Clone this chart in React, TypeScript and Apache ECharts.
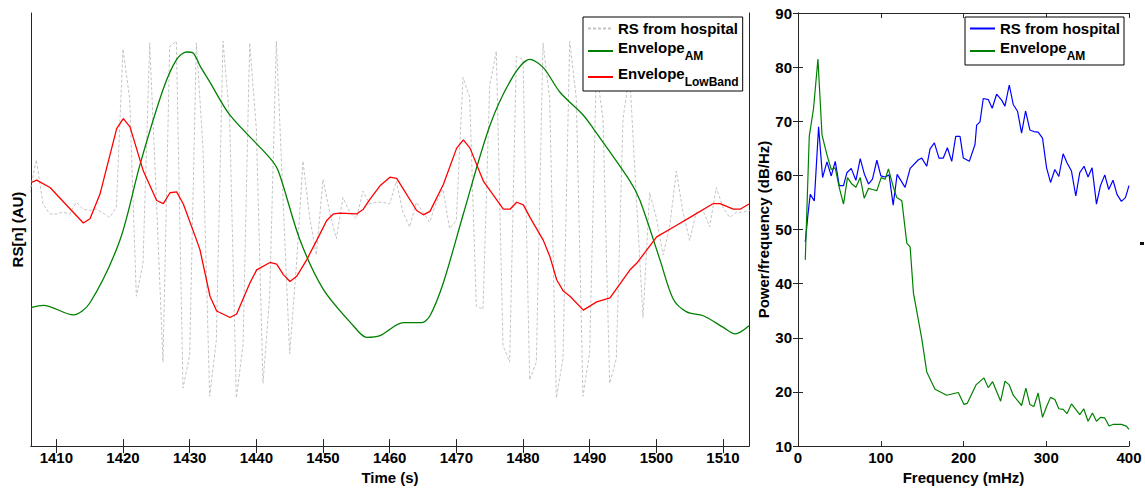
import React, { useEffect, useRef } from 'react';
import * as echarts from 'echarts';

const FONT = "'Liberation Sans', Arial, Helvetica, sans-serif";
const AXIS_COLOR = '#262626';

// ---------- Left panel: time domain ----------
const timeTicks = [1410, 1420, 1430, 1440, 1450, 1460, 1470, 1480, 1490, 1500, 1510];

// RS from hospital, sampled once per second starting at rsStart
const rsStart = 1406;
const rsValues = [
  58.5, 66.1, 55.9, 53.6, 53.6, 54.0, 53.6, 56.3, 54.7, 54.4,
  54.7, 53.8, 52.8, 55.1, 91.7, 80.2, 34.6, 42.2, 93.1, 57.4,
  19.4, 92.3, 93.5, 13.4, 21.0, 93.1, 68.8, 11.5, 24.4, 93.5,
  75.6, 11.1, 23.2, 93.1, 73.3, 14.5, 34.6, 93.5, 57.4, 21.3,
  41.5, 65.8, 52.8, 44.1, 61.6, 54.0, 47.9, 57.4, 54.0, 52.5,
  58.9, 55.9, 56.3, 56.3, 55.9, 61.2, 54.0, 50.6, 56.3, 54.0,
  51.7, 56.3, 59.3, 50.2, 52.1, 85.1, 80.6, 32.3, 31.6, 83.2,
  91.2, 23.2, 19.4, 90.0, 89.3, 15.3, 19.4, 93.1, 80.2, 11.1,
  20.2, 93.5, 80.2, 11.5, 21.7, 87.0, 75.6, 14.5, 20.2, 75.6,
  85.9, 57.4, 29.7, 58.5, 52.8, 44.1, 50.6, 63.5, 54.0, 47.5,
  54.0, 54.4, 50.6, 59.7, 55.1, 52.8, 54.0, 54.0, 54.4,
];

// Envelope AM (time, value)
const envAM: [number, number][] = [
  [1406.2, 32.0], [1408.05, 32.5], [1412.55, 30.3], [1415.05, 33.1], [1419.55, 47.6],
  [1422.55, 65.0], [1426.05, 82.5], [1428.05, 89.3], [1429.55, 91.0], [1430.55, 90.7],
  [1431.55, 87.8], [1433.05, 84.0], [1436.05, 76.4], [1442.05, 66.5], [1443.3, 63.5],
  [1446.55, 47.6], [1450.05, 36.2], [1454.55, 27.8], [1456.55, 25.1], [1458.55, 25.5],
  [1462.05, 28.5], [1464.8, 28.5], [1466.05, 30.1], [1468.05, 37.7], [1471.05, 53.6],
  [1475.05, 74.1], [1478.55, 85.5], [1481.05, 89.3], [1483.05, 87.4], [1485.55, 81.7],
  [1489.05, 76.4], [1490.55, 73.3], [1496.05, 61.2], [1497.55, 56.7], [1500.55, 43.0],
  [1502.55, 33.9], [1504.55, 31.0], [1507.05, 30.1], [1510.05, 27.4], [1511.8, 25.9],
  [1513.9, 27.8],
];

// Envelope LowBand (time, value)
const envLowBand: [number, number][] = [
  [1406.2, 60.8], [1407.05, 61.4], [1409.05, 59.7], [1414.05, 51.5], [1415.05, 52.5],
  [1416.55, 58.2], [1419.05, 73.3], [1420.05, 75.6], [1421.05, 73.7], [1423.05, 63.5],
  [1425.05, 56.7], [1426.05, 56.0], [1427.05, 58.5], [1428.05, 58.7], [1429.05, 55.9],
  [1431.05, 47.5], [1431.55, 45.3], [1433.05, 34.6], [1434.05, 31.2], [1436.05, 29.7],
  [1437.05, 30.5], [1439.05, 37.7], [1440.05, 40.7], [1442.05, 42.4], [1443.05, 42.0],
  [1444.05, 39.6], [1445.05, 38.0], [1446.05, 39.2], [1447.55, 43.0], [1449.55, 49.0],
  [1450.55, 52.1], [1451.55, 53.6], [1452.55, 53.8], [1455.05, 53.6], [1456.05, 54.7],
  [1457.05, 57.0], [1458.55, 60.1], [1460.05, 62.1], [1461.05, 61.8], [1464.05, 54.4],
  [1465.05, 53.4], [1466.05, 54.2], [1468.05, 60.4], [1470.05, 68.8], [1471.05, 70.7],
  [1472.05, 68.8], [1474.05, 61.2], [1477.05, 54.7], [1478.05, 54.7], [1479.05, 56.3],
  [1480.05, 55.7], [1481.05, 52.8], [1483.05, 47.5], [1484.05, 43.7], [1485.05, 38.4],
  [1486.05, 35.8], [1487.05, 34.6], [1489.05, 31.4], [1491.05, 33.3], [1493.05, 34.2],
  [1496.05, 40.7], [1497.05, 42.2], [1500.05, 48.3], [1503.05, 51.0], [1505.05, 52.8],
  [1508.55, 56.0], [1509.55, 56.0], [1511.55, 54.7], [1512.55, 54.7], [1513.9, 55.9],
];

// ---------- Right panel: spectrum ----------
const psdRS: [number, number][] = [
  [8.8, 47.7], [12.1, 52.9], [14.8, 56.5], [19.7, 55.3], [24.9, 69.0], [29.7, 59.6],
  [35.0, 62.5], [40.2, 59.9], [45.0, 62.6], [49.8, 58.1], [55.0, 58.1], [59.1, 60.5],
  [64.3, 61.3], [70.0, 59.1], [75.2, 63.1], [80.3, 60.2], [85.2, 58.4], [90.0, 59.3],
  [95.3, 62.8], [100.1, 59.9], [105.3, 59.7], [110.1, 60.1], [115.0, 54.5], [119.8, 60.2],
  [129.4, 57.8], [135.5, 61.3], [145.5, 62.9], [149.6, 63.2], [155.6, 61.7], [159.6, 64.9],
  [164.8, 66.0], [170.4, 63.2], [175.6, 63.2], [180.5, 65.1], [185.8, 62.6], [190.6, 67.2],
  [195.8, 67.2], [199.8, 63.2], [207.0, 62.6], [213.9, 65.7], [215.9, 69.3], [219.9, 69.9],
  [223.9, 74.2], [229.9, 74.0], [234.7, 72.4], [240.0, 75.0], [246.1, 73.9], [250.1, 72.8],
  [255.3, 76.7], [260.1, 73.1], [265.4, 71.8], [270.2, 67.8], [275.0, 71.9], [280.2, 68.4],
  [285.0, 68.1], [290.2, 68.0], [295.5, 66.9], [300.4, 61.4], [305.2, 58.7], [310.4, 61.1],
  [315.2, 59.8], [320.4, 64.0], [325.2, 62.3], [330.5, 60.8], [335.7, 56.2], [340.5, 60.5],
  [345.7, 61.7], [350.5, 59.7], [355.4, 61.4], [360.7, 54.7], [365.5, 58.1], [370.7, 60.1],
  [375.5, 57.4], [380.7, 59.1], [385.5, 56.5], [390.8, 55.2], [395.7, 55.9], [400.0, 58.1],
];

const psdAM: [number, number][] = [
  [8.8, 44.4], [13.6, 67.2], [18.8, 72.4], [24.1, 81.5], [29.0, 67.5], [35.0, 63.8],
  [40.2, 61.1], [45.0, 61.4], [49.8, 57.8], [55.0, 54.7], [59.8, 59.6], [65.1, 58.4],
  [70.0, 57.8], [75.2, 59.6], [80.0, 55.8], [85.2, 57.6], [90.0, 57.4], [95.3, 57.2],
  [100.5, 59.6], [105.3, 59.3], [109.3, 61.2], [115.3, 57.8], [119.4, 55.9], [125.5, 55.3],
  [131.5, 47.5], [135.5, 46.8], [139.5, 38.3], [149.6, 29.8], [155.6, 23.7], [165.6, 20.5],
  [179.7, 19.4], [193.7, 19.9], [200.6, 17.7], [204.6, 17.9], [215.1, 21.3], [224.7, 22.6],
  [229.9, 20.8], [235.2, 21.9], [244.9, 18.3], [250.1, 22.0], [255.3, 21.3], [260.1, 19.4],
  [270.2, 17.5], [275.4, 20.7], [280.2, 17.7], [285.0, 17.3], [290.2, 19.8], [295.5, 15.3],
  [300.4, 17.3], [305.2, 19.0], [310.4, 18.6], [315.2, 16.9], [320.4, 16.8], [325.2, 16.0],
  [330.5, 17.8], [335.7, 16.8], [340.5, 15.8], [345.3, 16.9], [350.5, 14.6], [355.8, 16.1],
  [360.7, 14.6], [365.5, 15.3], [370.7, 15.2], [375.9, 13.7], [380.7, 14.0], [390.8, 14.0],
  [396.8, 13.7], [400.0, 13.1],
];

const legendLabels: Record<string, string> = {
  'RS from hospital': '{m1|RS from hospital}',
  'Envelope AM': '{m|Envelope}{s|AM}',
  'Envelope LowBand': '{m|Envelope}{s|LowBand}',
  'RS from hospital (PSD)': '{m1|RS from hospital}',
  'Envelope AM (PSD)': '{m|Envelope}{s|AM}',
};

const legendText = {
  fontFamily: FONT,
  fontWeight: 'bold' as const,
  fontSize: 15,
  color: '#000',
  rich: {
    m1: { fontFamily: FONT, fontWeight: 'bold', fontSize: 15, color: '#000', lineHeight: 16 },
    m: { fontFamily: FONT, fontWeight: 'bold', fontSize: 15, color: '#000', lineHeight: 22, verticalAlign: 'top' },
    s: { fontFamily: FONT, fontWeight: 'bold', fontSize: 12, color: '#000', lineHeight: 22, verticalAlign: 'bottom' },
  },
};

const labelFont = { fontFamily: FONT, fontWeight: 'bold' as const, fontSize: 15, color: '#000' };
const plainNumber = (v: number) => String(v);

function buildOption(): echarts.EChartsOption {
  const rsData = rsValues.map((v, i) => [rsStart + i, v]);
  const legendCommon = {
    orient: 'vertical' as const,
    itemWidth: 25,
    itemHeight: 12,
    itemGap: 4,
    padding: [4, 4, 3, 4],
    borderColor: '#000',
    borderWidth: 1,
    backgroundColor: '#fff',
    textStyle: legendText,
    itemStyle: { opacity: 0 },
    formatter: (name: string) => legendLabels[name] || name,
    selectedMode: false as const,
  };
  const axisLine = { show: true, lineStyle: { color: AXIS_COLOR, width: 1 } };
  return {
    animation: false,
    backgroundColor: '#fff',
    textStyle: { fontFamily: FONT },
    grid: [
      { left: 31, top: 13, width: 718, height: 439, show: false },
      { left: 798, top: 13, width: 331, height: 439, show: false },
    ],
    legend: [
      { ...legendCommon, left: 583, top: 17, data: ['RS from hospital', 'Envelope AM', 'Envelope LowBand'] },
      { ...legendCommon, left: 965, top: 17, data: ['RS from hospital (PSD)', 'Envelope AM (PSD)'] },
    ],
    xAxis: [
      {
        gridIndex: 0, type: 'value', min: 1406.2, max: 1513.9, position: 'bottom',
        axisLine, splitLine: { show: false },
        axisTick: { show: true, inside: true, length: 7, customValues: timeTicks, lineStyle: { color: AXIS_COLOR } },
        axisLabel: { show: true, margin: 4, customValues: timeTicks, formatter: plainNumber, ...labelFont },
        name: 'Time (s)', nameLocation: 'middle', nameGap: 19, nameTextStyle: labelFont,
      },
      {
        gridIndex: 0, type: 'value', min: 1406.2, max: 1513.9, position: 'top',
        axisLine, splitLine: { show: false },
        axisTick: { show: true, inside: true, length: 7, customValues: timeTicks, lineStyle: { color: AXIS_COLOR } },
        axisLabel: { show: false },
      },
      {
        gridIndex: 1, type: 'value', min: 0, max: 400, interval: 100, position: 'bottom',
        axisLine, splitLine: { show: false },
        axisTick: { show: true, inside: true, length: 5, lineStyle: { color: AXIS_COLOR } },
        axisLabel: { show: true, margin: 4, showMinLabel: true, showMaxLabel: true, formatter: plainNumber, ...labelFont },
        name: 'Frequency (mHz)', nameLocation: 'middle', nameGap: 19, nameTextStyle: labelFont,
      },
      {
        gridIndex: 1, type: 'value', min: 0, max: 400, interval: 100, position: 'top',
        axisLine, splitLine: { show: false },
        axisTick: { show: true, inside: true, length: 5, lineStyle: { color: AXIS_COLOR } },
        axisLabel: { show: false },
      },
    ],
    yAxis: [
      {
        gridIndex: 0, type: 'value', min: 0, max: 100, position: 'left',
        axisLine, splitLine: { show: false }, axisTick: { show: false }, axisLabel: { show: false },
        name: 'RS[n] (AU)', nameLocation: 'middle', nameGap: 6, nameTextStyle: labelFont,
      },
      {
        gridIndex: 0, type: 'value', min: 0, max: 100, position: 'right',
        axisLine, splitLine: { show: false }, axisTick: { show: false }, axisLabel: { show: false },
      },
      {
        gridIndex: 1, type: 'value', min: 10, max: 90, interval: 10, position: 'left',
        axisLine, splitLine: { show: false },
        axisTick: { show: true, inside: true, length: 5, lineStyle: { color: AXIS_COLOR } },
        axisLabel: { show: true, margin: 6, showMinLabel: true, showMaxLabel: true, formatter: plainNumber, ...labelFont },
        name: 'Power/frequency (dB/Hz)', nameLocation: 'middle', nameGap: 24, nameTextStyle: labelFont,
      },
      {
        gridIndex: 1, type: 'value', min: 10, max: 90, interval: 10, position: 'right',
        axisLine, splitLine: { show: false },
        axisTick: { show: true, inside: true, length: 5, lineStyle: { color: AXIS_COLOR } },
        axisLabel: { show: false },
      },
    ],
    series: [
      {
        name: 'RS from hospital', type: 'line', xAxisIndex: 0, yAxisIndex: 0, data: rsData,
        symbol: 'none', showSymbol: false, z: 2,
        lineStyle: { color: '#c4c4c4', width: 1, type: [3, 2] }, itemStyle: { color: '#c4c4c4' },
      },
      {
        name: 'Envelope AM', type: 'line', xAxisIndex: 0, yAxisIndex: 0, data: envAM,
        symbol: 'none', showSymbol: false, smooth: 0.3, z: 3,
        lineStyle: { color: '#008000', width: 1.3 }, itemStyle: { color: '#008000' },
      },
      {
        name: 'Envelope LowBand', type: 'line', xAxisIndex: 0, yAxisIndex: 0, data: envLowBand,
        symbol: 'none', showSymbol: false, z: 4,
        lineStyle: { color: '#ff0000', width: 1.3 }, itemStyle: { color: '#ff0000' },
      },
      {
        name: 'RS from hospital (PSD)', type: 'line', xAxisIndex: 2, yAxisIndex: 2, data: psdRS,
        symbol: 'none', showSymbol: false, z: 3,
        lineStyle: { color: '#0000ff', width: 1.2 }, itemStyle: { color: '#0000ff' },
      },
      {
        name: 'Envelope AM (PSD)', type: 'line', xAxisIndex: 2, yAxisIndex: 2, data: psdAM,
        symbol: 'none', showSymbol: false, z: 4,
        lineStyle: { color: '#008000', width: 1.2 }, itemStyle: { color: '#008000' },
      },
    ],
    graphic: [
      { type: 'rect', left: 1140, top: 242, shape: { width: 4, height: 3 }, style: { fill: '#111' } },
    ],
  } as echarts.EChartsOption;
}

export default function App() {
  const ref = useRef<HTMLDivElement>(null);
  useEffect(() => {
    if (!ref.current) return;
    const chart = echarts.init(ref.current, null, { renderer: 'svg' });
    chart.setOption(buildOption());
    return () => chart.dispose();
  }, []);
  return (
    <div
      ref={ref}
      style={{ position: 'fixed', left: 0, top: 0, width: 1145, height: 490, background: '#fff' }}
    />
  );
}
